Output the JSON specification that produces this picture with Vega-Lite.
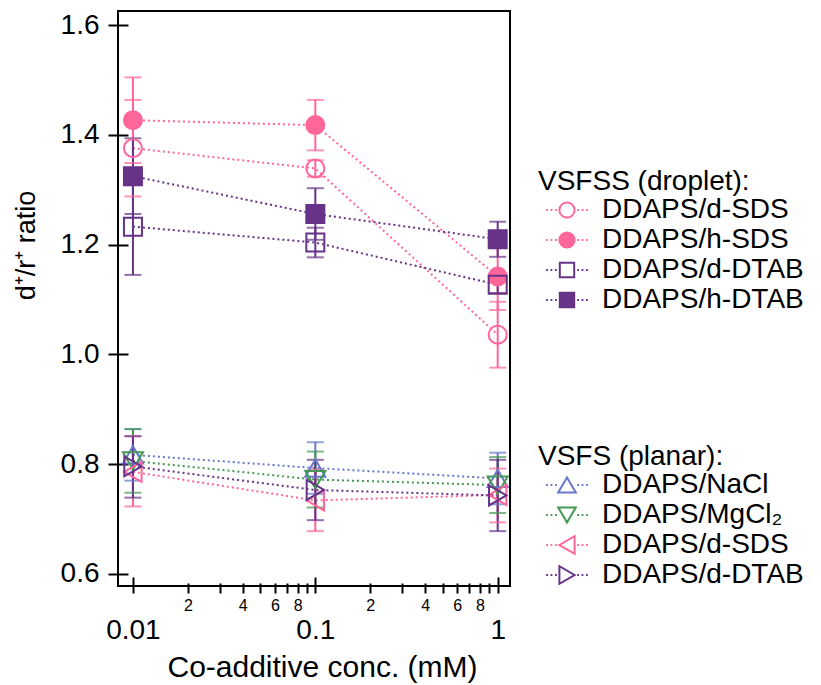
{
  "$schema": "https://vega.github.io/schema/vega-lite/v6.json",
  "width": 392,
  "height": 575,
  "autosize": {"type": "none"},
  "padding": {"left": 118, "top": 11, "right": 311, "bottom": 99},
  "background": "white",
  "datasets": {
    "droplet": [
      {"s": "DDAPS/d-SDS", "x": 0.01, "y": 1.376, "lo": 1.288, "hi": 1.464},
      {"s": "DDAPS/d-SDS", "x": 0.1, "y": 1.339, "lo": 1.324, "hi": 1.354},
      {"s": "DDAPS/d-SDS", "x": 1, "y": 1.036, "lo": 0.976, "hi": 1.096},
      {"s": "DDAPS/h-SDS", "x": 0.01, "y": 1.427, "lo": 1.349, "hi": 1.505},
      {"s": "DDAPS/h-SDS", "x": 0.1, "y": 1.418, "lo": 1.372, "hi": 1.464},
      {"s": "DDAPS/h-SDS", "x": 1, "y": 1.142, "lo": 1.081, "hi": 1.203},
      {"s": "DDAPS/d-DTAB", "x": 0.01, "y": 1.233, "lo": 1.145, "hi": 1.321},
      {"s": "DDAPS/d-DTAB", "x": 0.1, "y": 1.204, "lo": 1.177, "hi": 1.231},
      {"s": "DDAPS/d-DTAB", "x": 1, "y": 1.127, "lo": 1.112, "hi": 1.142},
      {"s": "DDAPS/h-DTAB", "x": 0.01, "y": 1.325, "lo": 1.256, "hi": 1.394},
      {"s": "DDAPS/h-DTAB", "x": 0.1, "y": 1.256, "lo": 1.209, "hi": 1.303},
      {"s": "DDAPS/h-DTAB", "x": 1, "y": 1.21, "lo": 1.178, "hi": 1.242}
    ],
    "planar": [
      {"s": "DDAPS/NaCl", "x": 0.01, "y": 0.817, "lo": 0.77, "hi": 0.864},
      {"s": "DDAPS/NaCl", "x": 0.1, "y": 0.793, "lo": 0.746, "hi": 0.84},
      {"s": "DDAPS/NaCl", "x": 1, "y": 0.774, "lo": 0.727, "hi": 0.821},
      {"s": "DDAPS/MgCl₂", "x": 0.01, "y": 0.806, "lo": 0.748, "hi": 0.864},
      {"s": "DDAPS/MgCl₂", "x": 0.1, "y": 0.772, "lo": 0.721, "hi": 0.823},
      {"s": "DDAPS/MgCl₂", "x": 1, "y": 0.762, "lo": 0.711, "hi": 0.813},
      {"s": "DDAPS/d-SDS", "x": 0.01, "y": 0.786, "lo": 0.723, "hi": 0.851},
      {"s": "DDAPS/d-SDS", "x": 0.1, "y": 0.734, "lo": 0.678, "hi": 0.79},
      {"s": "DDAPS/d-SDS", "x": 1, "y": 0.744, "lo": 0.694, "hi": 0.792},
      {"s": "DDAPS/d-DTAB", "x": 0.01, "y": 0.796, "lo": 0.739, "hi": 0.851},
      {"s": "DDAPS/d-DTAB", "x": 0.1, "y": 0.753, "lo": 0.698, "hi": 0.808},
      {"s": "DDAPS/d-DTAB", "x": 1, "y": 0.743, "lo": 0.678, "hi": 0.808}
    ]
  },
  "config": {
    "font": "Liberation Sans",
    "view": {"stroke": "black", "strokeWidth": 2},
    "axis": {"grid": false, "domain": false, "tickColor": "black", "tickWidth": 2, "labelColor": "black", "titleColor": "black", "labelFont": "Liberation Sans", "titleFont": "Liberation Sans", "titleFontWeight": "normal", "labelFlush": false, "labelOverlap": false, "labelBound": false},
    "legend": {"orient": "none", "titleFont": "Liberation Sans", "labelFont": "Liberation Sans", "titleFontSize": 28, "labelFontSize": 28, "titleFontWeight": "normal", "titleColor": "black", "labelColor": "black", "symbolSize": 256, "symbolStrokeWidth": 2, "symbolOpacity": 1, "padding": 0, "titlePadding": 0, "rowPadding": 2, "symbolOffset": 15, "labelOffset": 21, "labelLimit": 400, "titleLimit": 400}
  },
  "layer": [
    {
      "data": {"name": "droplet"},
      "encoding": {
        "x": {"field": "x", "type": "quantitative", "scale": {"type": "log", "domain": [0.00828, 1.168], "nice": false},
          "axis": {"orient": "bottom", "values": [0.01, 0.1, 1], "labelExpr": "datum.value < 0.05 ? '0.01' : datum.value < 0.5 ? '0.1' : '1'", "offset": -9, "tickSize": 16, "labelFontSize": 28, "labelPadding": 23, "title": "Co-additive conc. (mM)", "titleFontSize": 30, "titleX": 204, "titleY": 90, "titleAlign": "center", "titleBaseline": "middle"}},
        "y": {"field": "y", "type": "quantitative", "scale": {"domain": [0.578, 1.626], "nice": false, "zero": false},
          "axis": {"values": [0.6, 0.8, 1.0, 1.2, 1.4, 1.6], "format": ".1f", "offset": -10, "tickSize": 20, "labelFontSize": 28, "labelPadding": 9, "title": "d⁺/r⁺ ratio", "titleFontSize": 27, "titleAngle": -90, "titleX": -102, "titleY": 234, "titleAlign": "center", "titleBaseline": "middle"}}
      },
      "layer": [
        {"mark": {"type": "line", "strokeDash": [2, 3], "strokeWidth": 2},
         "encoding": {"stroke": {"field": "s", "type": "nominal", "scale": {"domain": ["DDAPS/d-SDS", "DDAPS/h-SDS", "DDAPS/d-DTAB", "DDAPS/h-DTAB"], "range": ["#FF6699", "#FF6699", "#663388", "#663388"]}, "legend": null}}},
        {"mark": {"type": "rule", "strokeWidth": 2},
         "encoding": {"y": {"field": "lo", "type": "quantitative"}, "y2": {"field": "hi"},
           "stroke": {"field": "s", "type": "nominal", "scale": {"domain": ["DDAPS/d-SDS", "DDAPS/h-SDS", "DDAPS/d-DTAB", "DDAPS/h-DTAB"], "range": ["#FF6699", "#FF6699", "#663388", "#663388"]}, "legend": null}}},
        {"mark": {"type": "tick", "orient": "horizontal", "size": 17, "thickness": 2},
         "encoding": {"y": {"field": "lo", "type": "quantitative"},
           "color": {"field": "s", "type": "nominal", "scale": {"domain": ["DDAPS/d-SDS", "DDAPS/h-SDS", "DDAPS/d-DTAB", "DDAPS/h-DTAB"], "range": ["#FF6699", "#FF6699", "#663388", "#663388"]}, "legend": null}}},
        {"mark": {"type": "tick", "orient": "horizontal", "size": 17, "thickness": 2},
         "encoding": {"y": {"field": "hi", "type": "quantitative"},
           "color": {"field": "s", "type": "nominal", "scale": {"domain": ["DDAPS/d-SDS", "DDAPS/h-SDS", "DDAPS/d-DTAB", "DDAPS/h-DTAB"], "range": ["#FF6699", "#FF6699", "#663388", "#663388"]}, "legend": null}}},
        {"mark": {"type": "point", "filled": true, "strokeWidth": 2, "size": 324, "opacity": 1},
         "encoding": {
           "stroke": {"field": "s", "type": "nominal", "scale": {"domain": ["DDAPS/d-SDS", "DDAPS/h-SDS", "DDAPS/d-DTAB", "DDAPS/h-DTAB"], "range": ["#FF6699", "#FF6699", "#663388", "#663388"]}, "legend": null},
           "fill": {"field": "s", "type": "nominal", "scale": {"domain": ["DDAPS/d-SDS", "DDAPS/h-SDS", "DDAPS/d-DTAB", "DDAPS/h-DTAB"], "range": ["transparent", "#FF6699", "transparent", "#663388"]}, "legend": null},
           "shape": {"field": "s", "type": "nominal", "scale": {"domain": ["DDAPS/d-SDS", "DDAPS/h-SDS", "DDAPS/d-DTAB", "DDAPS/h-DTAB"], "range": ["circle", "circle", "square", "square"]}, "legend": null}}},
        {"mark": {"type": "point", "filled": true, "strokeWidth": 2, "opacity": 0},
         "encoding": {
           "stroke": {"field": "s", "type": "nominal", "scale": {"domain": ["DDAPS/d-SDS", "DDAPS/h-SDS", "DDAPS/d-DTAB", "DDAPS/h-DTAB"], "range": ["#FF6699", "#FF6699", "#663388", "#663388"]}, "legend": {"title": "VSFSS (droplet):", "legendX": 420, "legendY": 157}},
           "fill": {"field": "s", "type": "nominal", "scale": {"domain": ["DDAPS/d-SDS", "DDAPS/h-SDS", "DDAPS/d-DTAB", "DDAPS/h-DTAB"], "range": ["transparent", "#FF6699", "transparent", "#663388"]}, "legend": {"title": "VSFSS (droplet):", "legendX": 420, "legendY": 157}},
           "shape": {"field": "s", "type": "nominal", "scale": {"domain": ["DDAPS/d-SDS", "DDAPS/h-SDS", "DDAPS/d-DTAB", "DDAPS/h-DTAB"], "range": [
             "M-2.6 0h0.22M-2.05 0h0.22M-1.5 0h0.22M1.28 0h0.22M1.83 0h0.22M2.38 0h0.22M0.95 0A0.95 0.95 0 1 1 -0.95 0A0.95 0.95 0 1 1 0.95 0Z",
             "M-2.6 0h0.22M-2.05 0h0.22M-1.5 0h0.22M1.28 0h0.22M1.83 0h0.22M2.38 0h0.22M0.95 0A0.95 0.95 0 1 1 -0.95 0A0.95 0.95 0 1 1 0.95 0Z",
             "M-2.6 0h0.22M-2.05 0h0.22M-1.5 0h0.22M1.28 0h0.22M1.83 0h0.22M2.38 0h0.22M-0.9 -0.9H0.9V0.9H-0.9Z",
             "M-2.6 0h0.22M-2.05 0h0.22M-1.5 0h0.22M1.28 0h0.22M1.83 0h0.22M2.38 0h0.22M-0.9 -0.9H0.9V0.9H-0.9Z"]}, "legend": {"title": "VSFSS (droplet):", "legendX": 420, "legendY": 157}}}}
      ],
      "resolve": {"scale": {"stroke": "independent", "fill": "independent", "shape": "independent", "color": "independent"}}
    },
    {
      "data": {"name": "planar"},
      "encoding": {
        "x": {"field": "x", "type": "quantitative", "scale": {"type": "log", "domain": [0.00828, 1.168], "nice": false},
          "axis": {"orient": "bottom", "values": [0.02, 0.03, 0.04, 0.05, 0.06, 0.07, 0.08, 0.09, 0.2, 0.3, 0.4, 0.5, 0.6, 0.7, 0.8, 0.9], "labelExpr": "indexof([2,4,6,8,20,40,60,80], round(datum.value*100)) >= 0 ? format(datum.value < 0.1 ? datum.value*100 : datum.value*10, '.0f') : ''", "offset": -3, "tickSize": 10, "labelFontSize": 16, "labelPadding": 4, "title": null}},
        "y": {"field": "y", "type": "quantitative", "scale": {"domain": [0.578, 1.626], "nice": false, "zero": false},
          "axis": {"values": [0.6, 0.8, 1.0, 1.2, 1.4, 1.6], "format": ".1f", "offset": -10, "tickSize": 20, "labelFontSize": 28, "labelPadding": 9, "title": "d⁺/r⁺ ratio", "titleFontSize": 27, "titleAngle": -90, "titleX": -102, "titleY": 234, "titleAlign": "center", "titleBaseline": "middle"}}
      },
      "layer": [
        {"mark": {"type": "line", "strokeDash": [2, 3], "strokeWidth": 2},
         "encoding": {"stroke": {"field": "s", "type": "nominal", "scale": {"domain": ["DDAPS/NaCl", "DDAPS/MgCl₂", "DDAPS/d-SDS", "DDAPS/d-DTAB"], "range": ["#6677CC", "#449955", "#FF6699", "#663388"]}, "legend": null}}},
        {"mark": {"type": "rule", "strokeWidth": 2},
         "encoding": {"y": {"field": "lo", "type": "quantitative"}, "y2": {"field": "hi"},
           "stroke": {"field": "s", "type": "nominal", "scale": {"domain": ["DDAPS/NaCl", "DDAPS/MgCl₂", "DDAPS/d-SDS", "DDAPS/d-DTAB"], "range": ["#6677CC", "#449955", "#FF6699", "#663388"]}, "legend": null}}},
        {"mark": {"type": "tick", "orient": "horizontal", "size": 17, "thickness": 2},
         "encoding": {"y": {"field": "lo", "type": "quantitative"},
           "color": {"field": "s", "type": "nominal", "scale": {"domain": ["DDAPS/NaCl", "DDAPS/MgCl₂", "DDAPS/d-SDS", "DDAPS/d-DTAB"], "range": ["#6677CC", "#449955", "#FF6699", "#663388"]}, "legend": null}}},
        {"mark": {"type": "tick", "orient": "horizontal", "size": 17, "thickness": 2},
         "encoding": {"y": {"field": "hi", "type": "quantitative"},
           "color": {"field": "s", "type": "nominal", "scale": {"domain": ["DDAPS/NaCl", "DDAPS/MgCl₂", "DDAPS/d-SDS", "DDAPS/d-DTAB"], "range": ["#6677CC", "#449955", "#FF6699", "#663388"]}, "legend": null}}},
        {"mark": {"type": "point", "filled": true, "strokeWidth": 2, "size": 400, "opacity": 1},
         "encoding": {
           "stroke": {"field": "s", "type": "nominal", "scale": {"domain": ["DDAPS/NaCl", "DDAPS/MgCl₂", "DDAPS/d-SDS", "DDAPS/d-DTAB"], "range": ["#6677CC", "#449955", "#FF6699", "#663388"]}, "legend": null},
           "fill": {"field": "s", "type": "nominal", "scale": {"domain": ["DDAPS/NaCl", "DDAPS/MgCl₂", "DDAPS/d-SDS", "DDAPS/d-DTAB"], "range": ["transparent", "transparent", "transparent", "transparent"]}, "legend": null},
           "shape": {"field": "s", "type": "nominal", "scale": {"domain": ["DDAPS/NaCl", "DDAPS/MgCl₂", "DDAPS/d-SDS", "DDAPS/d-DTAB"], "range": ["triangle-up", "triangle-down", "triangle-left", "triangle-right"]}, "legend": null}}},
        {"mark": {"type": "point", "filled": true, "strokeWidth": 2, "opacity": 0},
         "encoding": {
           "stroke": {"field": "s", "type": "nominal", "scale": {"domain": ["DDAPS/NaCl", "DDAPS/MgCl₂", "DDAPS/d-SDS", "DDAPS/d-DTAB"], "range": ["#6677CC", "#449955", "#FF6699", "#663388"]}, "legend": {"title": "VSFS (planar):", "legendX": 420, "legendY": 432}},
           "fill": {"field": "s", "type": "nominal", "scale": {"domain": ["DDAPS/NaCl", "DDAPS/MgCl₂", "DDAPS/d-SDS", "DDAPS/d-DTAB"], "range": ["transparent", "transparent", "transparent", "transparent"]}, "legend": {"title": "VSFS (planar):", "legendX": 420, "legendY": 432}},
           "shape": {"field": "s", "type": "nominal", "scale": {"domain": ["DDAPS/NaCl", "DDAPS/MgCl₂", "DDAPS/d-SDS", "DDAPS/d-DTAB"], "range": [
             "M-2.6 0h0.22M-2.05 0h0.22M-1.5 0h0.22M1.28 0h0.22M1.83 0h0.22M2.38 0h0.22M0 -0.95L1.1 0.95H-1.1Z",
             "M-2.6 0h0.22M-2.05 0h0.22M-1.5 0h0.22M1.28 0h0.22M1.83 0h0.22M2.38 0h0.22M0 0.95L1.1 -0.95H-1.1Z",
             "M-2.6 0h0.22M-2.05 0h0.22M-1.5 0h0.22M1.28 0h0.22M1.83 0h0.22M2.38 0h0.22M-0.95 0L0.95 -1.1V1.1Z",
             "M-2.6 0h0.22M-2.05 0h0.22M-1.5 0h0.22M1.28 0h0.22M1.83 0h0.22M2.38 0h0.22M0.95 0L-0.95 -1.1V1.1Z"]}, "legend": {"title": "VSFS (planar):", "legendX": 420, "legendY": 432}}}}
      ],
      "resolve": {"scale": {"stroke": "independent", "fill": "independent", "shape": "independent", "color": "independent"}}
    }
  ],
  "resolve": {"scale": {"stroke": "independent", "fill": "independent", "shape": "independent", "color": "independent"}, "axis": {"x": "independent"}}
}
